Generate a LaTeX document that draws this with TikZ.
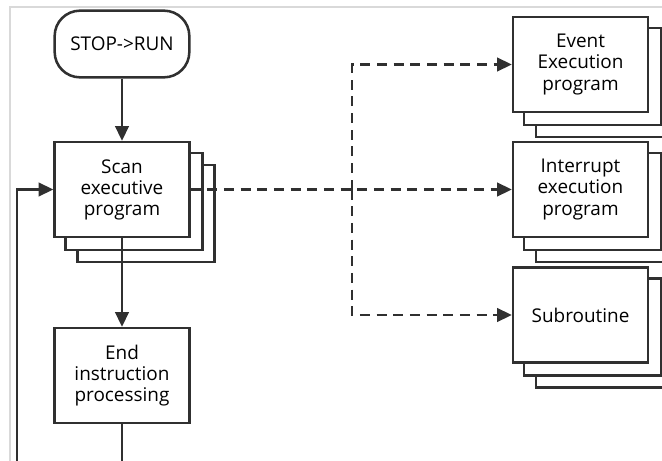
\documentclass[tikz,border=0pt]{standalone}
\usepackage{fontspec}
\setmainfont{Open Sans}
\usetikzlibrary{arrows.meta,backgrounds}
\definecolor{ink}{HTML}{303030}
\tikzset{
  box/.style={draw=ink, line width=1.9pt, fill=white, minimum width=101pt,
    minimum height=71pt, align=center, inner sep=2pt,
    font=\fontsize{14.2}{15.8}\selectfont},
  startbox/.style={box, rounded corners=19pt, minimum height=50pt},
  layer/.style={draw=ink, line width=1.9pt, fill=white},
  flow/.style={draw=ink, line width=1.9pt, -{Triangle[length=11pt,width=10pt]}},
  plain/.style={draw=ink, line width=1.9pt},
  dflow/.style={flow, dash pattern=on 7.5pt off 5pt},
  frame/.style={draw=black!15, line width=0.9pt}
}
% two copies stacked behind a box, each shifted right and down
\newcommand\stacked[1]{%
  \begin{scope}[on background layer]
    \path[layer] ([shift={(24,24)}]#1.north west) rectangle ([shift={(24,24)}]#1.south east);
    \path[layer] ([shift={(12,12)}]#1.north west) rectangle ([shift={(12,12)}]#1.south east);
  \end{scope}}
\begin{document}
\begin{tikzpicture}[x=0.75pt,y=-0.75pt]
\clip (0,0) rectangle (662,461);
\draw[frame] (10,461) -- (10,7) -- (662,7);

\node[startbox] (start) at (122,44) {STOP->RUN};
\node[box] (scan) at (122,189.5) {Scan\\executive\\program};
\node[box] (end) at (122,375.5) {End\\instruction\\processing};
\node[box] (event) at (580.5,64.5) {Event\\Execution\\program};
\node[box] (intr) at (580.5,189.5) {Interrupt\\execution\\program};
\node[box] (sub) at (580.5,315) {Subroutine};
\stacked{scan}
\stacked{event}
\stacked{intr}
\stacked{sub}

\coordinate (endout) at (122,470);
\coordinate (loopin) at (17,470);
\coordinate (split) at (352,189.5);

\draw[flow] (start) -- (scan);
\draw[flow] (scan) -- (end);
\draw[plain] (end) -- (endout);
\draw[flow] (loopin) |- (scan.west);
\draw[dflow] (scan.east) -- (intr.west);
\draw[dflow] (split) |- (event.west);
\draw[dflow] (split) |- (sub.west);
\end{tikzpicture}
\end{document}
